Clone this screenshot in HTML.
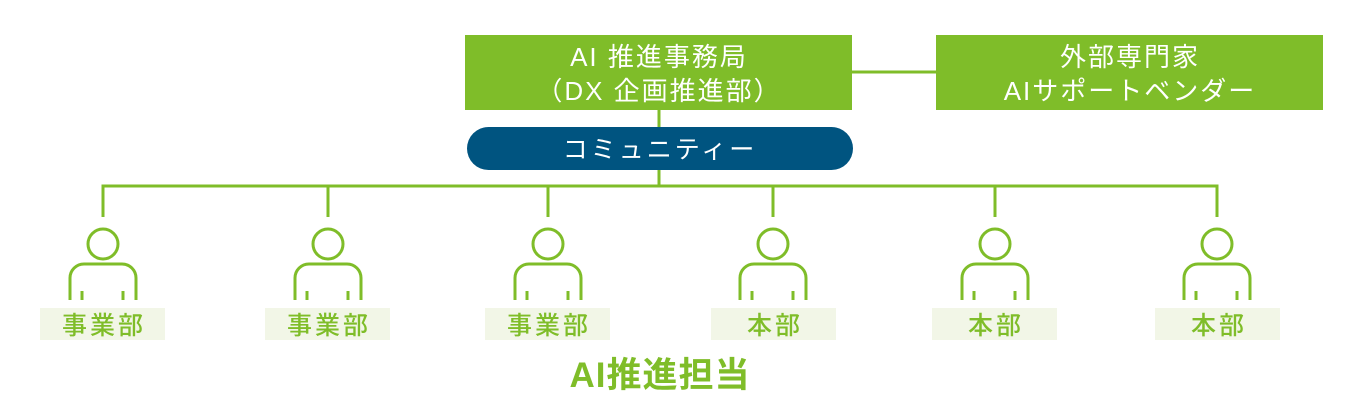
<!DOCTYPE html>
<html><head><meta charset="utf-8"><style>
html,body{margin:0;padding:0;background:#fff;width:1360px;height:410px;overflow:hidden}
svg{display:block}
text{font-family:"Liberation Sans","Noto Sans CJK JP",sans-serif}
</style></head><body>
<svg width="1360" height="410" viewBox="0 0 1360 410" xmlns="http://www.w3.org/2000/svg">
<g stroke="#7fbd29" stroke-width="3" fill="none">
  <line x1="852" y1="72" x2="936" y2="72"/>
  <line x1="659" y1="110" x2="659" y2="128"/>
  <line x1="659" y1="170" x2="659" y2="186"/>
  <polyline points="103,217 103,186 1217,186 1217,217"/>
  <line x1="328" y1="186" x2="328" y2="217"/>
  <line x1="548" y1="186" x2="548" y2="217"/>
  <line x1="773" y1="186" x2="773" y2="217"/>
  <line x1="995" y1="186" x2="995" y2="217"/>
</g>
<rect x="465" y="35" width="387" height="75" fill="#7fbd29"/>
<rect x="936" y="35" width="387" height="75" fill="#7fbd29"/>
<g fill="#fff" font-size="26" text-anchor="middle" letter-spacing="2" font-family="Noto Sans CJK JP, sans-serif">
<text x="659" y="66" font-family="Noto Sans CJK JP, sans-serif">AI 推進事務局</text>
<text x="659" y="100" font-family="Noto Sans CJK JP, sans-serif">（DX 企画推進部）</text>
<text x="1130" y="66" font-family="Noto Sans CJK JP, sans-serif">外部専門家</text>
<text x="1130" y="100" font-family="Noto Sans CJK JP, sans-serif">AIサポートベンダー</text>
</g>
<rect x="467" y="127" width="386" height="43" rx="21.5" fill="#005480"/>
<text x="660" y="158" font-size="25" fill="#fff" text-anchor="middle" letter-spacing="3" font-family="Noto Sans CJK JP, sans-serif">コミュニティー</text>
<g stroke="#7fbd29" stroke-width="3" fill="none">
  <g transform="translate(103,0)"><circle cx="0" cy="244" r="15"/><path d="M-33,300 V278 a14,14 0 0 1 14,-14 H19 a14,14 0 0 1 14,14 V300 M-21,291 V300 M20,291 V300"/></g>
  <g transform="translate(328,0)"><circle cx="0" cy="244" r="15"/><path d="M-33,300 V278 a14,14 0 0 1 14,-14 H19 a14,14 0 0 1 14,14 V300 M-21,291 V300 M20,291 V300"/></g>
  <g transform="translate(548,0)"><circle cx="0" cy="244" r="15"/><path d="M-33,300 V278 a14,14 0 0 1 14,-14 H19 a14,14 0 0 1 14,14 V300 M-21,291 V300 M20,291 V300"/></g>
  <g transform="translate(773,0)"><circle cx="0" cy="244" r="15"/><path d="M-33,300 V278 a14,14 0 0 1 14,-14 H19 a14,14 0 0 1 14,14 V300 M-21,291 V300 M20,291 V300"/></g>
  <g transform="translate(995,0)"><circle cx="0" cy="244" r="15"/><path d="M-33,300 V278 a14,14 0 0 1 14,-14 H19 a14,14 0 0 1 14,14 V300 M-21,291 V300 M20,291 V300"/></g>
  <g transform="translate(1217,0)"><circle cx="0" cy="244" r="15"/><path d="M-33,300 V278 a14,14 0 0 1 14,-14 H19 a14,14 0 0 1 14,14 V300 M-21,291 V300 M20,291 V300"/></g>
</g>
<g fill="#f2f6e7">
  <rect x="40" y="308" width="125" height="32"/>
  <rect x="265" y="308" width="125" height="32"/>
  <rect x="485" y="308" width="125" height="32"/>
  <rect x="711" y="308" width="125" height="32"/>
  <rect x="932" y="308" width="125" height="32"/>
  <rect x="1155" y="308" width="125" height="32"/>
</g>
<g fill="#7fbd29" font-size="25" font-weight="500" text-anchor="middle" letter-spacing="3">
  <text x="104" y="334" font-family="Noto Sans CJK JP, sans-serif">事業部</text>
  <text x="329" y="334" font-family="Noto Sans CJK JP, sans-serif">事業部</text>
  <text x="549" y="334" font-family="Noto Sans CJK JP, sans-serif">事業部</text>
  <text x="775" y="334" font-family="Noto Sans CJK JP, sans-serif">本部</text>
  <text x="996" y="334" font-family="Noto Sans CJK JP, sans-serif">本部</text>
  <text x="1219" y="334" font-family="Noto Sans CJK JP, sans-serif">本部</text>
</g>
<text x="660" y="387" font-size="35" font-weight="bold" fill="#7fbd29" text-anchor="middle" letter-spacing="1" font-family="Noto Sans CJK JP, sans-serif">AI推進担当</text>
</svg>
</body></html>
